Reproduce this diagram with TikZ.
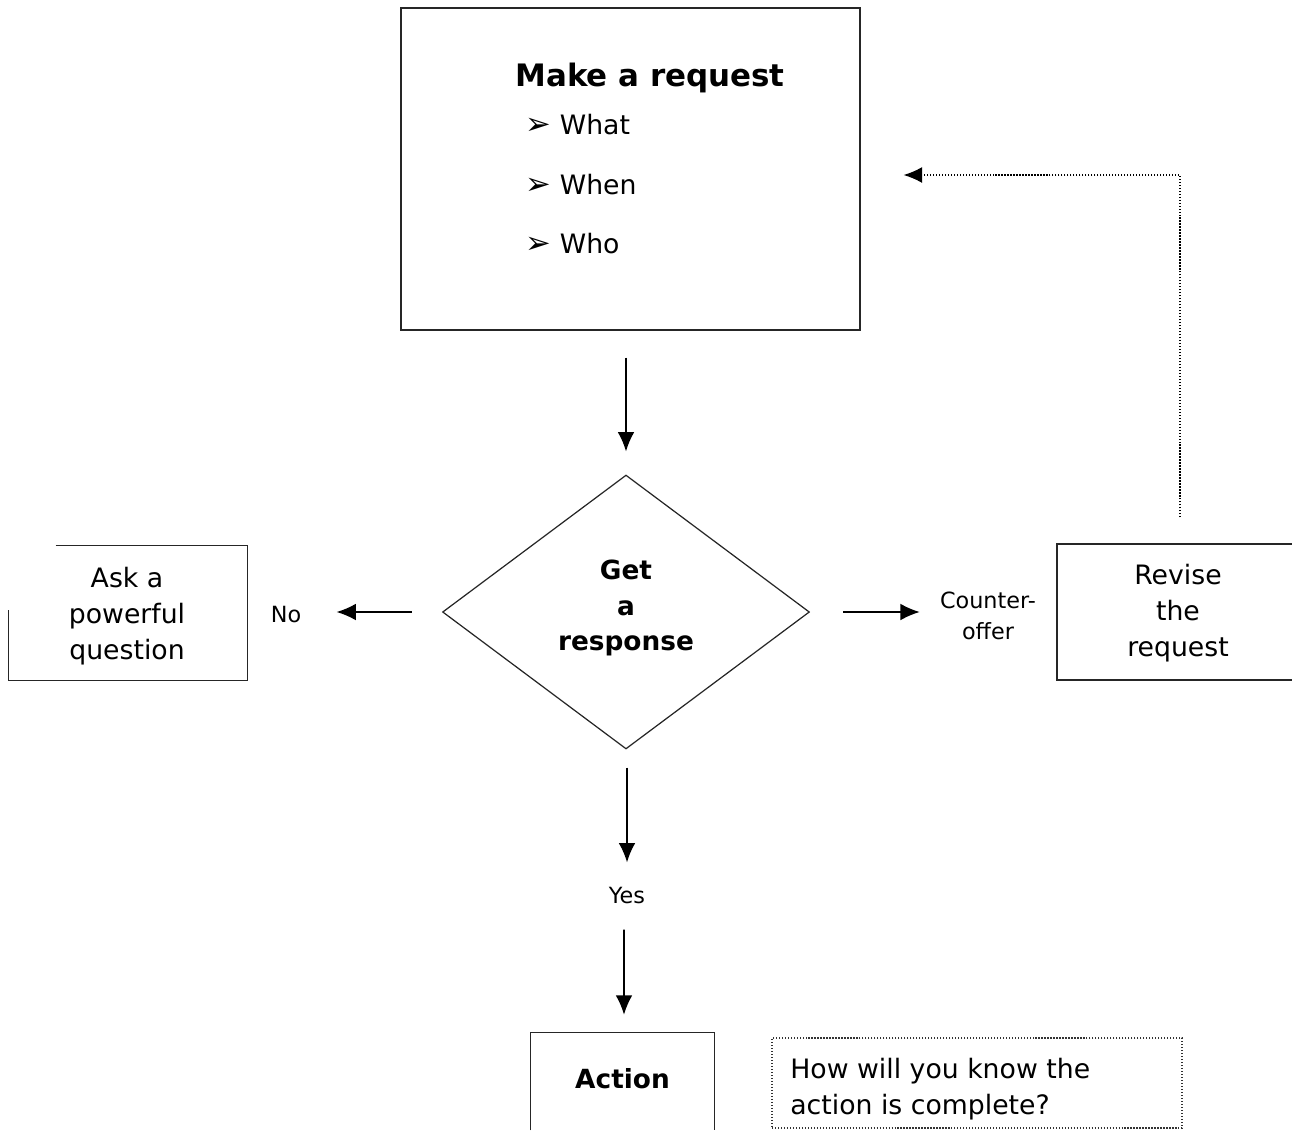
\documentclass[tikz,border=0pt]{standalone}
\usepackage{fontspec}
\setmainfont{DejaVu Sans}
\usetikzlibrary{arrows.meta,shapes.geometric}
\newcommand{\arrowbullet}{\raisebox{0pt}{\fontsize{17.5}{20}\selectfont ➢}}
\begin{document}
\begin{tikzpicture}[x=0.02cm,y=-0.02cm,
  boxline/.style={draw=black!85,line width=0.7pt},
  flow/.style={draw=black,line width=0.9pt,-{Latex[length=11pt,width=9.5pt]}},
  loopline/.style={draw=black,line width=0.7pt,densely dotted,-{Latex[length=10.5pt,width=9pt]}},
  bodytxt/.style={font=\fontsize{15.2}{20.4}\selectfont,align=center,inner sep=0pt},
  boldtxt/.style={font=\fontsize{15}{20.4}\selectfont\bfseries,align=center,inner sep=0pt},
  labeltxt/.style={font=\fontsize{12.7}{17.6}\selectfont,align=center,inner sep=0pt},
  bullet/.style={font=\fontsize{15.2}{20.4}\selectfont,anchor=west,inner sep=0pt}
]
\useasboundingbox (0,0) rectangle (1292,1130);

% request box with its heading and bullet list
\node[boxline,minimum width=9.18cm,minimum height=6.44cm] (req) at (630.5,169) {};
\node[font=\fontsize{17.6}{22}\selectfont\bfseries,inner sep=0pt] (reqtitle) at (650,78) {Make a request};
\node[bullet] (what) at (525,125) {\arrowbullet\hspace{5pt}What};
\node[bullet] (when) at (525,185) {\arrowbullet\hspace{5pt}When};
\node[bullet] (who)  at (525,244) {\arrowbullet\hspace{5pt}Who};

% decision
\node[draw=black!85,line width=0.7pt,diamond,minimum width=7.34cm,minimum height=5.48cm,inner sep=0pt] (resp) at (626,612) {};
\node[boldtxt] (resptxt) at (626,608) {Get\\a\\response};

% left branch
\node[labeltxt] (no) at (286,615) {No};
\node[minimum width=4.76cm,minimum height=2.68cm,inner sep=0pt] (ask) at (128,613) {};
\node[bodytxt] (asktxt) at (127,616) {Ask a\\powerful\\question};
\draw[boxline] ([xshift=0.94cm]ask.north west) -- (ask.north east) -- (ask.south east)
  -- (ask.south west) -- ([yshift=-1.28cm]ask.north west);

% right branch
\node[labeltxt] (counter) at (988,616) {Counter-\\offer};
\node[boxline,minimum width=4.84cm,minimum height=2.72cm,inner sep=0pt] (revise) at (1178,612) {};
\node[bodytxt] (revisetxt) at (1178,613) {Revise\\the\\request};

% downward branch
\node[labeltxt] (yes) at (627,896) {Yes};
\node[minimum width=3.66cm,minimum height=1.94cm,inner sep=0pt] (action) at (622.5,1081.5) {};
\node[boldtxt] (actiontxt) at (622.5,1079) {Action};
\draw[boxline] (action.south west) -- (action.north west) -- (action.north east) -- (action.south east);
\node[draw=black!80,line width=0.7pt,densely dotted,minimum width=8.2cm,minimum height=1.8cm,inner sep=0pt] (check) at (977,1083) {};
\node[font=\fontsize{15.2}{20.4}\selectfont,align=left,anchor=west,inner sep=0pt] (checktxt) at (790,1089)
  {How will you know the\\action is complete?};

% connectors
\draw[flow,shorten <=27*0.02cm,shorten >=23*0.02cm] (resp.north |- req.south) -- (resp.north);
\draw[flow,shorten <=30*0.02cm,shorten >=35*0.02cm] (resp.west) -- (no.east |- resp.west);
\draw[flow,shorten <=33*0.02cm,shorten >=20*0.02cm] (resp.east) -- (counter.west |- resp.east);
\draw[flow,shorten <=18*0.02cm,shorten >=25*0.02cm] (resp.south) ++(1,0) -- (yes.north);
\draw[flow,shorten <=25*0.02cm,shorten >=18*0.02cm] (action.north |- yes.south) ++(1.5,0) -- ([xshift=0.03cm]action.north);

% revision loop back to the request
\coordinate (loopcorner) at (1180,175);
\draw[loopline,shorten >=43*0.02cm] (revise.north -| loopcorner) ++(0,-26) -- (loopcorner) -- (req.east |- loopcorner);
\end{tikzpicture}
\end{document}
